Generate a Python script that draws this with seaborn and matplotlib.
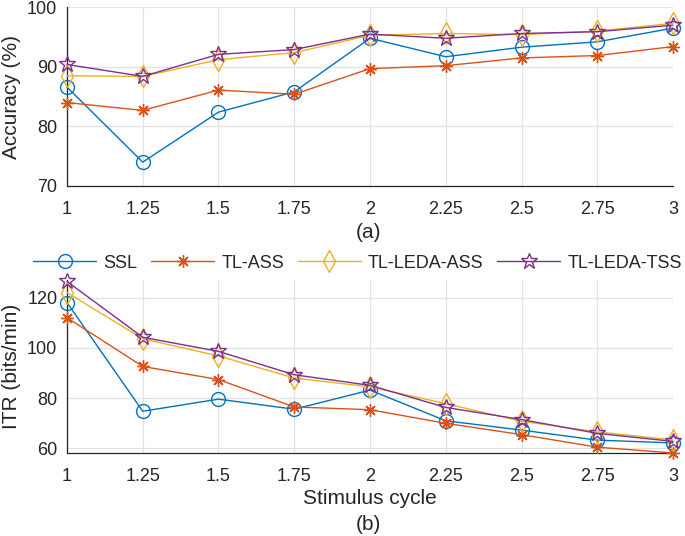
import matplotlib
matplotlib.use("Agg")
import numpy as np
import pandas as pd
import matplotlib.pyplot as plt
import seaborn as sns

# stimulus cycles
cycles = [1, 1.25, 1.5, 1.75, 2, 2.25, 2.5, 2.75, 3]
xtick_labels = ["1", "1.25", "1.5", "1.75", "2", "2.25", "2.5", "2.75", "3"]
methods = ["SSL", "TL-ASS", "TL-LEDA-ASS", "TL-LEDA-TSS"]

# accuracy (%)
acc_ssl = [86.6, 74.0, 82.4, 85.8, 94.8, 91.7, 93.3, 94.2, 96.5]
acc_tl_ass = [84.0, 82.7, 86.1, 85.4, 89.7, 90.2, 91.5, 91.9, 93.4]
acc_leda_ass = [88.5, 88.4, 91.2, 92.4, 95.3, 95.6, 95.4, 96.0, 97.3]
acc_leda_tss = [90.4, 88.4, 92.1, 92.9, 95.5, 94.8, 95.6, 95.9, 97.0]

# ITR (bits/min)
itr_ssl = [118.0, 74.8, 79.6, 75.6, 83.2, 71.0, 67.3, 63.3, 62.2]
itr_tl_ass = [112.0, 92.6, 87.4, 76.5, 75.4, 70.0, 65.5, 60.5, 58.2]
itr_leda_ass = [122.0, 103.6, 96.8, 88.0, 84.5, 77.8, 70.8, 66.6, 63.4]
itr_leda_tss = [126.4, 104.2, 98.6, 89.3, 85.1, 76.3, 71.5, 66.0, 62.8]

colors = ["#0072BD", "#D95319", "#EDB120", "#7E2F8E"]
markers = ["o", (8, 2, 0), "d", "*"]
msizes = [10, 9, 11, 12]

sns.set_style("white")
plt.rcParams["font.family"] = ["Liberation Sans", "DejaVu Sans"]

fig = plt.figure(figsize=(6.85, 5.36), dpi=100)
ax1 = fig.add_axes([0.0978, 0.653, 0.8847, 0.3334])
ax2 = fig.add_axes([0.0978, 0.1549, 0.8847, 0.3228])

acc = [acc_ssl, acc_tl_ass, acc_leda_ass, acc_leda_tss]
itr = [itr_ssl, itr_tl_ass, itr_leda_ass, itr_leda_tss]

for ax, series, ylim, yticks, ylabel in [
    (ax1, acc, (70, 100), [70, 80, 90, 100], "Accuracy (%)"),
    (ax2, itr, (58.2, 127), [60, 80, 100, 120], "ITR (bits/min)"),
]:
    for name, vals, c, m, ms in zip(methods, series, colors, markers, msizes):
        df = pd.DataFrame({"cycle": cycles, "value": vals})
        sns.lineplot(data=df, x="cycle", y="value", ax=ax, color=c, marker=m,
                     markersize=ms, markerfacecolor="none", markeredgecolor=c,
                     markeredgewidth=1.0, linewidth=1.0, label=name,
                     clip_on=False, zorder=3)
    ax.set_xlim(1, 3)
    ax.set_ylim(*ylim)
    ax.set_xticks(cycles)
    ax.set_xticklabels(xtick_labels)
    ax.set_yticks(yticks)
    ax.set_ylabel(ylabel, fontsize=15, color="#262626", labelpad=4)
    ax.set_xlabel("")
    ax.grid(True, color="#e2e2e2", linewidth=0.9)
    ax.set_axisbelow(True)
    ax.tick_params(axis="both", direction="in", length=4, width=0.8,
                   labelsize=13, colors="#262626")
    ax.tick_params(axis="x", pad=11)
    ax.tick_params(axis="y", pad=7)
    for s in ["top", "right"]:
        ax.spines[s].set_visible(False)
    for s in ["left", "bottom"]:
        ax.spines[s].set_color("#262626")
        ax.spines[s].set_linewidth(0.9)
    ax.get_legend().remove()

ax2.set_xlabel("Stimulus cycle", fontsize=15, color="#262626", labelpad=3)

fig.text(0.5375, 1 - 233 / 536, "(a)", ha="center", va="center", fontsize=15, color="#262626")
fig.text(0.5375, 1 - 524 / 536, "(b)", ha="center", va="center", fontsize=15, color="#262626")

handles, labels = ax2.get_legend_handles_labels()
fig.legend(handles, labels, loc="center", bbox_to_anchor=(0.522, 1 - 263 / 536),
           ncol=4, frameon=False, fontsize=13, handlelength=3.5,
           handletextpad=0.4, columnspacing=0.75, borderaxespad=0)

fig.savefig("out.png", dpi=100)
